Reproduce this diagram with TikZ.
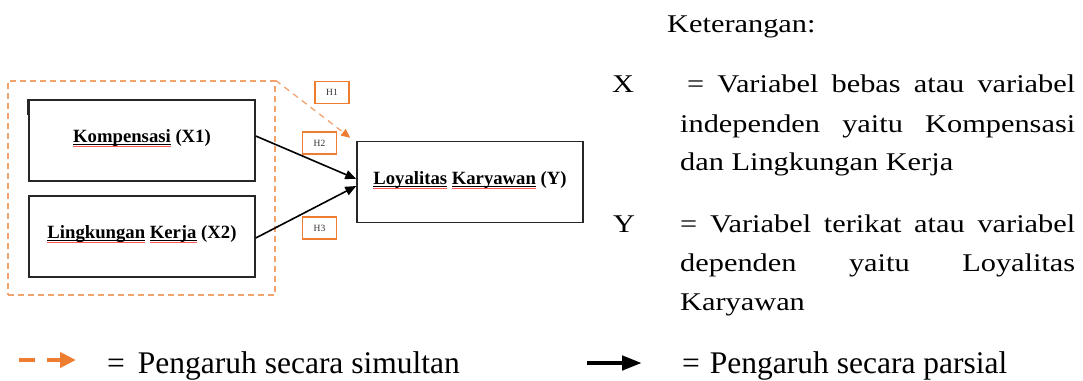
\documentclass[tikz,border=0pt]{standalone}
\usepackage{fontspec}
\setmainfont{Liberation Serif}
\newfontfamily\widefont{Liberation Serif}[FakeStretch=1.19]
\usetikzlibrary{arrows.meta}
\definecolor{hOrange}{HTML}{ED7D31}
\definecolor{lOrange}{HTML}{F2A26D}
\definecolor{boxgray}{HTML}{262626}
\newcommand\spw[1]{\setbox0=\hbox{#1}\rlap{\rule[-2.4pt]{\wd0}{0.9pt}}\rlap{\textcolor{red!65!white}{\rule[-4.4pt]{\wd0}{0.5pt}}}\box0\relax}
\tikzset{
  varbox/.style={draw=boxgray, line width=1.5pt, minimum width=226pt, minimum height=81pt,
    inner sep=0pt, font=\fontsize{18.7}{22}\selectfont\bfseries, text height=14pt, text depth=11pt},
  hbox/.style={draw=hOrange, line width=1.2pt, minimum width=34pt, minimum height=22pt,
    inner sep=0pt, font=\fontsize{9.5}{11}\selectfont, text=black!80},
  dbox/.style={draw=lOrange, line width=1.3pt, dash pattern=on 6pt off 4pt,
    minimum width=267pt, minimum height=214pt, inner sep=0pt},
  parr/.style={draw=black, line width=1.6pt, -{Triangle[length=11pt,width=9pt]}},
  sarr/.style={draw=lOrange, line width=1.3pt, dash pattern=on 6pt off 5pt,
    -{Triangle[length=9pt,width=8pt,fill=hOrange,color=hOrange]}},
  legtxt/.style={anchor=base west, inner sep=0pt, font=\widefont\fontsize{25.5}{30}\selectfont},
  bottxt/.style={anchor=base west, inner sep=0pt, font=\fontsize{31.5}{36}\selectfont},
}
\begin{document}
\begin{tikzpicture}[x=1pt, y=-1pt]
\useasboundingbox (0,0) rectangle (1083,380);
% grouping box
\node[dbox] (d) at (141.5,188) {};
% variable boxes
\node[varbox] (k) at (142,140.5) {\spw{Kompensasi} (X1)};
\node[varbox] (l) at (142,236.5) {\spw{Lingkungan} \spw{Kerja} (X2)};
\node[varbox, text depth=10pt] (y) at (470,182) {\spw{Loyalitas} \spw{Karyawan} (Y)};
% cursor mark
\draw[boxgray, line width=1pt] (27,99) -- (27,115);
% hypothesis labels
\node[hbox] (h1) at (332,92.5) {H1};
\node[hbox] (h2) at (319.5,143) {H2};
\node[hbox] (h3) at (319.5,228) {H3};
% connectors
\draw[parr] ([yshift=4.5pt]k.east) -- ([yshift=3pt]y.west);
\draw[parr] ([yshift=-1.5pt]l.east) -- ([yshift=-4pt]y.west);
\draw[sarr] (d.north east) -- ([shift={(-6pt,3pt)}]y.north west);
% legend (right)
\node[legtxt] (ket) at (667,32) {Keterangan:};
\node[legtxt] (xs) at (612,92) {X};
\node[legtxt] (x1) at (687,92) {\makebox[388pt][s]{= Variabel bebas atau variabel}};
\node[legtxt] (x2) at (680,132) {\makebox[395pt][s]{independen yaitu Kompensasi}};
\node[legtxt] (x3) at (680,170) {dan Lingkungan Kerja};
\node[legtxt] (ys) at (613,232) {Y};
\node[legtxt] (y1) at (680,232) {\makebox[395pt][s]{= Variabel terikat atau variabel}};
\node[legtxt] (y2) at (680,271.5) {\makebox[395pt][s]{dependen yaitu Loyalitas}};
\node[legtxt] (y3) at (680,310) {Karyawan};
% legend (bottom)
\coordinate (o1) at (19,360);
\coordinate (o2) at (76,360);
\draw[hOrange, line width=4.5pt, dash pattern=on 16pt off 12pt on 80pt,
  -{Triangle[length=16pt,width=15pt]}] (o1) -- (o2);
\node[bottxt] (ls) at (107,373) {=\hspace{13pt}Pengaruh secara simultan};
\coordinate (b1) at (587,363);
\coordinate (b2) at (642,363);
\draw[black, line width=4.5pt, -{Triangle[length=20pt,width=14pt]}] (b1) -- (b2);
\node[bottxt] (lp) at (682,373) {=\hspace{10pt}Pengaruh secara parsial};
\end{tikzpicture}
\end{document}
